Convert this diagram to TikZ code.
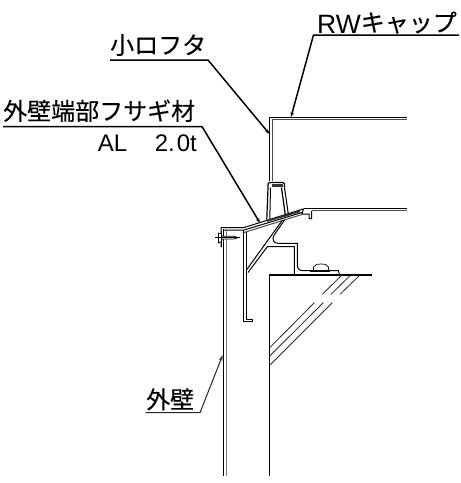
\documentclass[tikz,border=0pt]{standalone}
\usepackage{fontspec}
\setmainfont{Liberation Sans}
\newfontfamily\jp[FakeBold=0.3]{Noto Sans CJK JP}
\usetikzlibrary{arrows.meta}
\tikzset{
  part/.style={draw=black,line width=1pt,line join=miter},
  thin part/.style={draw=black,line width=0.7pt},
  hatch/.style={draw=black!85,line width=0.8pt},
  leader/.style={draw=black,line width=1.5pt,-{Stealth[length=5pt,width=3.5pt]}},
  leader light/.style={draw=black!85,line width=1pt,-{Stealth[length=6pt,width=3.5pt]}},
  label/.style={inner sep=0pt,font=\fontsize{24}{24}\selectfont,text=black}
}
\begin{document}
\begin{tikzpicture}[x=1pt,y=-1pt]
\useasboundingbox[fill=white] (0,0) rectangle (461,483);
% cap
\draw[part] (269.3,181) -- (269.3,117.3) -- (407,117.3);
\draw[part,draw=black!70] (272,181) -- (272,119.8) -- (407,119.8);
% clip at the foot of the cap
\draw[part,line width=1.2pt,rounded corners=1.5pt] (268,187.5) -- (268,182.5) -- (284.5,182.5) -- (284.5,187.5);
\fill[black!80] (272,183.5) rectangle (283,186.5);
\draw[part,line width=1.2pt] (268,187.5) -- (266.8,219.5);
\draw[part] (270.5,187.5) -- (269.8,219);
\draw[part,line width=1.2pt] (281.5,187.5) -- (285.5,216.5);
\draw[part] (284.5,187.5) -- (288.5,215.5);
% roof
\draw[part] (303.5,208.8) -- (407,208.8);
\draw[part,draw=black!70] (312,210.8) -- (407,210.8);
\draw[part] (303.5,208.8) -- (302,214) -- (309,214) -- (309,218.5) -- (311.5,218.5) -- (311.5,210.8);
% sloped cover
\draw[part] (221,247) -- (221,227.7) -- (243.5,227.7) -- (301.5,209.5) -- (303.5,208.8);
\draw[part] (224,230) -- (244,230) -- (302,212.5);
\draw[part,draw=black!70] (244,232.5) -- (302,214.5);
\draw[black!80,line width=1.6pt] (267,221) -- (300,211.5);
% frame vertical
\draw[part] (243.7,230) -- (243.7,321.7) -- (252.7,321.7) -- (252.7,319) -- (246.8,319) -- (246.8,232);
% brace and bracket
\draw[part] (246.8,269.5) -- (282.5,220);
\draw[part] (248,272.5) -- (267.3,246.7) -- (294.3,246.7) -- (294.3,275);
\draw[part] (284.5,220) -- (273.5,236) .. controls (272,240) and (274,243.3) .. (278,243.3) -- (297.3,243.3) -- (297.3,265) .. controls (297.3,268.5) and (299.5,270.7) .. (303,270.7) -- (338.5,270.7) -- (339.5,275);
% bolt
\draw[thin part,fill=white] (313.5,270) -- (313.5,267) .. controls (315,264) and (318,264) .. (321,264) .. controls (324,264) and (327,264) .. (328.5,267) -- (328.5,270);
\fill[black] (309.5,270) rectangle (330,271.5);
% walls
\draw[part] (223.7,229) -- (223.7,476);
\draw[part,draw=black!55] (226.3,229) -- (226.3,476);
\draw[part,line width=1.1pt] (269.3,476) -- (269.3,275) -- (372,275);
% hatching
\draw[hatch] (322.3,294.3) -- (342.3,274.7);
\draw[hatch] (331,294.3) -- (351,274.7);
\draw[hatch] (340,294.3) -- (360.3,274.7);
\draw[hatch] (269.7,347.7) -- (314.3,302.7);
\draw[hatch] (269.7,356) -- (323.3,302.7);
\draw[hatch] (269.7,365.3) -- (332.3,302.7);
% screw
\draw[thin part,fill=white] (218.5,233) -- (218.5,243) .. controls (221,243) and (222,241) .. (222,239) -- (234,239) -- (238,237.7) -- (234,236.3) -- (222,236.3) .. controls (222,234) and (221,233) .. (218.5,233) -- cycle;
\draw[thin part] (214.5,237.7) -- (240,237.7);
\draw[thin part] (221.3,231) -- (221.3,247);
% labels
\node[label,anchor=base east] (rw) at (457,33) {{\fontsize{26.5}{26.5}\selectfont RW}\raisebox{1.5pt}{\jp キャップ}};
\node[label,anchor=base west] (kokuchi) at (110,54) {\jp 小ロフタ};
\node[label,anchor=base west] (endp) at (3,120) {\jp 外壁端部フサギ材};
\node[label,anchor=base east] (al) at (197,151) {AL\hspace{1.15em}2.\hspace{0.08em}0t};
\node[label,anchor=base west] (wall) at (146,408.5) {\jp 外壁};
% leader targets
\coordinate (rwtip) at (291,117);
\coordinate (kokuchitip) at (269.5,134);
\coordinate (endtip) at (260,223);
\coordinate (walltip) at (222.7,355);
\coordinate (rwbend) at (313.5,35);
\coordinate (rwend) at (459,35);
\coordinate (kokuchibend) at (208,60);
\coordinate (kokuchistart) at (110,60);
\coordinate (endbend) at (202,126.5);
\coordinate (endstart) at (3,126.5);
\coordinate (wallbend) at (200,412.7);
\coordinate (wallstart) at (145.7,412.7);
\draw[leader] (rwend) -- (rwbend) -- (rwtip);
\draw[leader] (kokuchistart) -- (kokuchibend) -- (kokuchitip);
\draw[leader] (endstart) -- (endbend) -- (endtip);
\draw[leader light] (wallstart) -- (wallbend) -- (walltip);
\end{tikzpicture}
\end{document}
